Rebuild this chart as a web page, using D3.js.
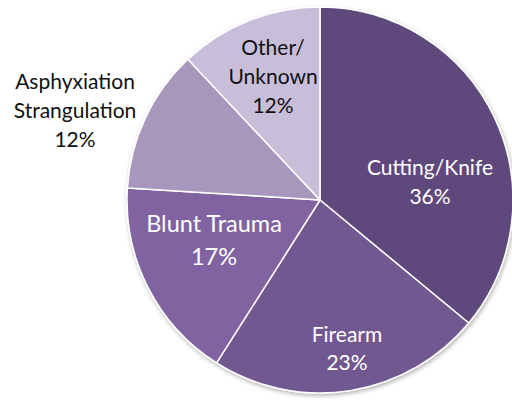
<!DOCTYPE html>
<html>
<head>
<meta charset="utf-8">
<script src="https://cdn.jsdelivr.net/npm/d3@7"></script>
<style>
  html, body { margin: 0; padding: 0; background: #ffffff; }
  svg { display: block; }
</style>
</head>
<body>
<svg id="chart" width="512" height="400"></svg>
<script>
// Homicide method shares, clockwise from 12 o'clock
const categories = ["Cutting/Knife", "Firearm", "Blunt Trauma", "Asphyxiation Strangulation", "Other/ Unknown"];
const labelLines = [["Cutting/Knife"], ["Firearm"], ["Blunt Trauma"], ["Asphyxiation", "Strangulation"], ["Other/", "Unknown"]];
const values = [36, 23, 17, 12, 12];
const colors = ["#5f4a7b", "#725890", "#8064a0", "#a897bd", "#c9bed9"];
const textColors = ["#ffffff", "#ffffff", "#ffffff", "#111111", "#111111"];

const svg = d3.select("#chart");
const cx = 320, cy = 200, R = 193;

const defs = svg.append("defs");
const f = defs.append("filter").attr("id", "shadow").attr("x", "-10%").attr("y", "-10%").attr("width", "120%").attr("height", "120%");
f.append("feDropShadow").attr("dx", 1).attr("dy", 2).attr("stdDeviation", 2).attr("flood-color", "#000").attr("flood-opacity", 0.3);

const pie = d3.pie().sort(null).value(d => d)(values);
const arc = d3.arc().innerRadius(0).outerRadius(R);

const g = svg.append("g").attr("transform", `translate(${cx},${cy})`);
g.append("g").attr("filter", "url(#shadow)")
  .selectAll("path").data(pie).join("path")
  .attr("d", arc)
  .attr("fill", (d, i) => colors[i])
  .attr("stroke", "#ffffff")
  .attr("stroke-width", 1.5)
  .attr("stroke-linejoin", "round");

// label block centres (offset from the pie centre), font sizes and line spacing
const labelPos = [[110, -18], [27, 149], [-106, 40], [-245, -89], [-47, -123]];
const labelSize = [21, 21, 23.5, 21, 21];
const labelLead = [29, 28, 33, 29, 29];
const font = "Lato, 'Open Sans', sans-serif";

pie.forEach((d, i) => {
  const [x, y] = labelPos[i];
  const lines = labelLines[i].concat([values[i] + "%"]);
  const t = g.append("text")
    .attr("text-anchor", "middle")
    .attr("font-family", font)
    .attr("font-size", labelSize[i])
    .attr("fill", textColors[i]);
  const y0 = y - (lines.length - 1) * labelLead[i] / 2;
  lines.forEach((ln, k) => {
    t.append("tspan").attr("x", x).attr("y", y0 + k * labelLead[i]).attr("dy", "0.35em").text(ln);
  });
});
</script>
</body>
</html>
